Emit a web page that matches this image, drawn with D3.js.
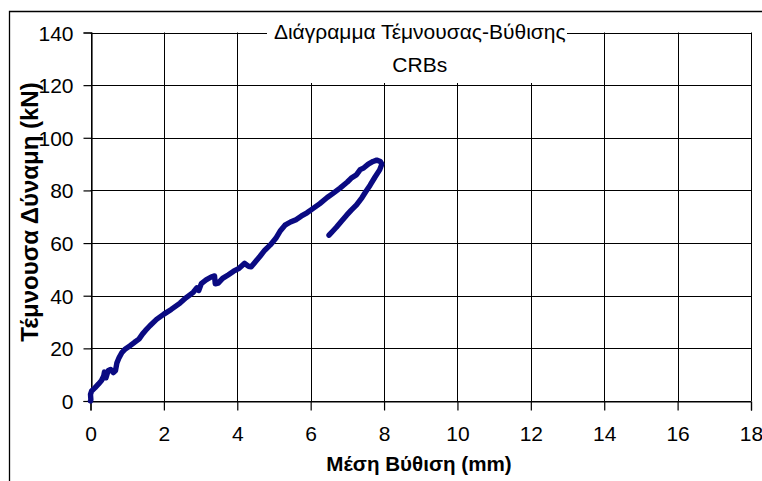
<!DOCTYPE html>
<html>
<head>
<meta charset="utf-8">
<script src="https://cdn.jsdelivr.net/npm/d3@7"></script>
<style>
  html, body { margin: 0; padding: 0; background: #fff; }
  svg { display: block; font-family: "Liberation Sans", Arial, sans-serif; }
</style>
</head>
<body>
<svg id="chart" width="762" height="481"></svg>
<script>
// Shear force vs mean deflection, CRBs specimen (loading + unloading branch)
const deflection = [
  0.00, 0.01, 0.00, 0.03, 0.12, 0.22, 0.30, 0.36, 0.38, 0.42, 0.48, 0.55, 0.62, 0.68,
  0.72, 0.78, 0.86, 0.95, 1.08, 1.20, 1.32, 1.42, 1.50, 1.62, 1.80, 2.00, 2.20, 2.44,
  2.60, 2.80, 2.90, 2.95, 3.02, 3.15, 3.30, 3.38, 3.40, 3.48, 3.60, 3.75, 3.90, 4.05,
  4.20, 4.30, 4.38, 4.50, 4.62, 4.75, 4.90, 5.05, 5.18, 5.30, 5.45, 5.60, 5.75, 5.90,
  6.05, 6.25, 6.45, 6.60, 6.80, 7.00, 7.10, 7.25, 7.35, 7.45, 7.57, 7.70, 7.80, 7.90,
  7.94, 7.88, 7.75, 7.62, 7.50, 7.40, 7.25, 7.10, 6.98, 6.85, 6.70, 6.60, 6.50
];
const shearForce = [
  0.0, 0.5, 2.5, 3.8, 5.0, 6.5, 7.8, 9.5, 11.0, 8.8, 11.5, 12.0, 10.8, 11.5,
  14.5, 16.5, 18.5, 19.8, 21.0, 22.3, 23.5, 25.5, 26.8, 28.6, 31.0, 33.0, 34.8, 37.2,
  39.2, 41.3, 43.0, 42.0, 44.6, 46.0, 47.2, 47.5, 44.5, 44.8, 46.6, 47.9, 49.3, 50.4,
  52.3, 51.2, 51.0, 53.0, 55.0, 57.3, 59.3, 61.8, 64.8, 66.8, 68.0, 68.9, 70.3, 71.5,
  73.0, 75.0, 77.3, 78.8, 80.9, 83.2, 84.6, 86.0, 87.9, 88.6, 90.0, 91.0, 91.5, 91.0,
  90.0, 87.8, 85.0, 82.0, 79.5, 77.3, 74.5, 72.4, 70.6, 68.5, 66.0, 64.5, 63.0
];
const xTicks = [0, 2, 4, 6, 8, 10, 12, 14, 16, 18];
const yTicks = [0, 20, 40, 60, 80, 100, 120, 140];
const titleLines = ["Διάγραμμα Τέμνουσας-Βύθισης", "CRBs"];
const xLabel = "Μέση Βύθιση (mm)";
const yLabel = "Τέμνουσα Δύναμη (kN)";

const svg = d3.select("#chart");
const plot = { left: 90.5, right: 751, top: 32.5, bottom: 401 };

const x = d3.scaleLinear().domain([0, 18]).range([plot.left, plot.right]);
const y = d3.scaleLinear().domain([0, 140]).range([plot.bottom, plot.top]);

// outer chart frame (left and top edges)
svg.append("path")
  .attr("d", "M9.5,481V11.5H762")
  .attr("fill", "none").attr("stroke", "#000").attr("stroke-width", 1.3);

// gridlines
const grid = svg.append("g").attr("stroke", "#000").attr("stroke-width", 1);
grid.selectAll(".gx").data(xTicks).join("line")
  .attr("x1", d => Math.round(x(d)) + 0.5).attr("x2", d => Math.round(x(d)) + 0.5)
  .attr("y1", plot.top).attr("y2", plot.bottom);
grid.selectAll(".gy").data(yTicks).join("line")
  .attr("x1", plot.left).attr("x2", plot.right)
  .attr("y1", d => Math.round(y(d)) + 0.5).attr("y2", d => Math.round(y(d)) + 0.5);

// axes
const xAxis = svg.append("g")
  .attr("transform", `translate(0,${Math.round(y(0)) + 0.5})`)
  .call(d3.axisBottom(x).tickValues(xTicks).tickSize(9).tickPadding(16));
const yAxis = svg.append("g")
  .attr("transform", `translate(${Math.round(x(0)) + 0.5},0)`)
  .call(d3.axisLeft(y).tickValues(yTicks).tickSize(8).tickPadding(10));
[xAxis, yAxis].forEach(a => {
  a.select(".domain").attr("stroke", "#000").attr("stroke-width", 1.2);
  a.selectAll(".tick line").attr("stroke", "#000").attr("stroke-width", 1.2);
  a.selectAll(".tick text")
    .attr("fill", "#000")
    .style("font-size", "21px")
    .style("font-family", "'Liberation Sans', Arial, sans-serif");
});
xAxis.selectAll(".tick text").attr("dy", "0.71em");
yAxis.selectAll(".tick text").attr("dy", "0.36em");

// data curve
const pts = deflection.map((d, i) => [d, shearForce[i]]);
svg.append("path")
  .datum(pts)
  .attr("fill", "none")
  .attr("stroke", "#0a0a82")
  .attr("stroke-width", 5.4)
  .attr("stroke-linejoin", "round")
  .attr("stroke-linecap", "round")
  .attr("d", d3.line().x(d => x(d[0])).y(d => y(d[1])));

// title box with white background over the grid
const titleG = svg.append("g");
titleG.append("rect")
  .attr("x", 267).attr("y", 16).attr("width", 300).attr("height", 67)
  .attr("fill", "#fff");
titleG.selectAll("text").data(titleLines).join("text")
  .attr("x", (plot.left + plot.right) / 2 - 1)
  .attr("y", (d, i) => 38.5 + i * 33.5)
  .attr("text-anchor", "middle")
  .style("font-size", "21px")
  .attr("fill", "#000")
  .text(d => d);

// axis titles
svg.append("text")
  .attr("x", 419).attr("y", 471)
  .attr("text-anchor", "middle")
  .style("font-size", "20.6px").style("font-weight", "bold")
  .attr("fill", "#000")
  .text(xLabel);
svg.append("text")
  .attr("transform", `translate(38,212) rotate(-90)`)
  .attr("text-anchor", "middle")
  .style("font-size", "24px").style("font-weight", "bold")
  .attr("fill", "#000")
  .text(yLabel);
</script>
</body>
</html>
